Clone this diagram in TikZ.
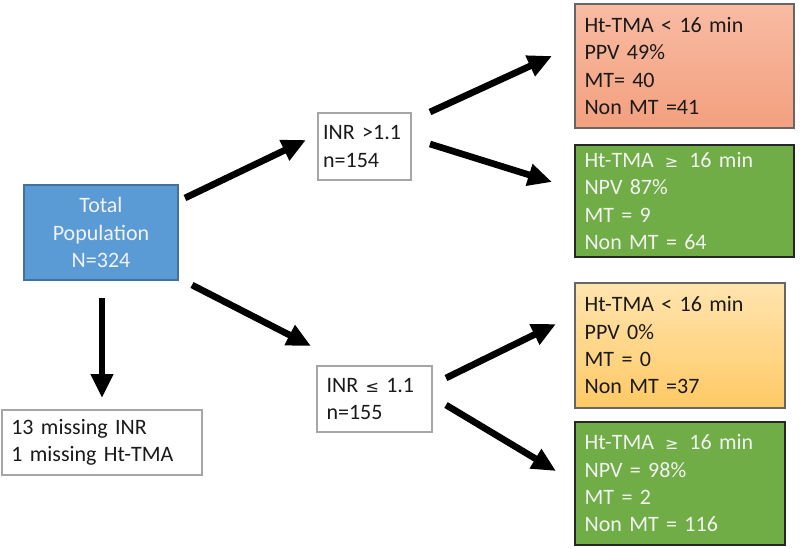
\documentclass[tikz,border=0pt]{standalone}
\usepackage{fontspec}
\setmainfont{Carlito}
\newfontfamily\symf{DejaVu Sans}
\usetikzlibrary{arrows.meta}
\definecolor{boxblue}{HTML}{5B9BD5}
\definecolor{blueedge}{HTML}{41719C}
\definecolor{boxgreen}{HTML}{70AD47}
\definecolor{redtop}{HTML}{F8BBA3}
\definecolor{redbot}{HTML}{F3A07E}
\definecolor{yeltop}{HTML}{FFE4AE}
\definecolor{yelbot}{HTML}{FFC965}
\definecolor{txtdark}{HTML}{1A1A1A}
\definecolor{txtlight}{HTML}{F2F2F2}
\newcommand{\gesym}{{\symf\fontsize{12}{12}\selectfont ≥}}
\newcommand{\lesym}{{\symf\fontsize{12}{12}\selectfont ≤}}
\tikzset{
  base/.style={font=\fontsize{16.5}{20.5}\selectfont, inner sep=0pt, outer sep=0pt},
  plain/.style={base, draw=gray!70, line width=0.8pt, fill=white, text=txtdark, align=left},
  outbox/.style={base, align=left},
  arr/.style={line width=5pt, -{Triangle[length=18pt,width=16pt]}},
}
\begin{document}
\begin{tikzpicture}[x=0.75pt,y=-0.75pt]
\useasboundingbox (0,0) rectangle (800,549);
% total
\node[base, draw=blueedge, line width=1pt, fill=boxblue, text=txtlight, align=center,
  minimum width=115.5pt, minimum height=71.25pt] (tot) at (101,232.5)
  {Total\\Population\\N=324};
% INR boxes
\node[plain, minimum width=69.75pt, minimum height=50.25pt, text width=62pt] (inr1) at (364.5,146.5)
  {INR >1.1\\n=154};
\node[plain, minimum width=86.25pt, minimum height=49.5pt, text width=72pt] (inr2) at (374.5,399)
  {INR \lesym\ 1.1\\n=155};
% missing
\node[plain, minimum width=150pt, minimum height=48.75pt, text width=136pt] (miss) at (102,442.5)
  {13 missing INR\\1 missing Ht-TMA};
% outcome boxes
\node[outbox, draw=gray!80!black, line width=0.8pt, top color=redtop, bottom color=redbot, text=txtdark,
  minimum width=164.25pt, minimum height=93pt, text width=150pt] (red) at (684.5,66)
  {Ht-TMA < 16 min\\PPV 49\%\\MT= 40\\Non MT =41};
\node[outbox, draw=black!85, line width=1.5pt, fill=boxgreen, text=txtlight,
  minimum width=164.25pt, minimum height=84pt, text width=150pt] (g1) at (684.5,201)
  {Ht-TMA\, \gesym\, 16 min\\NPV 87\%\\MT = 9\\Non MT = 64};
\node[outbox, draw=gray!80!black, line width=0.8pt, top color=yeltop, bottom color=yelbot, text=txtdark,
  minimum width=157.5pt, minimum height=93.75pt, text width=143pt] (yel) at (680,345.5)
  {Ht-TMA < 16 min\\PPV 0\%\\MT = 0\\Non MT =37};
\node[outbox, draw=black!85, line width=1.5pt, fill=boxgreen, text=txtlight,
  minimum width=157.5pt, minimum height=92.25pt, text width=143pt] (g2) at (680,483.5)
  {Ht-TMA\, \gesym\, 16 min\\NPV = 98\%\\MT = 2\\Non MT = 116};
% arrow ends
\coordinate (a1s) at (185,198); \coordinate (a1e) at (306,140);
\coordinate (a2s) at (192,285); \coordinate (a2e) at (311,346);
\coordinate (a3s) at (102,298); \coordinate (a3e) at (102,398);
\coordinate (a4s) at (430,112); \coordinate (a4e) at (552,56);
\coordinate (a5s) at (430,144); \coordinate (a5e) at (552,182);
\coordinate (a6s) at (446,378); \coordinate (a6e) at (556,324);
\coordinate (a7s) at (446,405); \coordinate (a7e) at (556,471);
\draw[arr] (a1s) -- (a1e);
\draw[arr] (a2s) -- (a2e);
\draw[arr] (a3s) -- (a3e);
\draw[arr] (a4s) -- (a4e);
\draw[arr] (a5s) -- (a5e);
\draw[arr] (a6s) -- (a6e);
\draw[arr] (a7s) -- (a7e);
\end{tikzpicture}
\end{document}
